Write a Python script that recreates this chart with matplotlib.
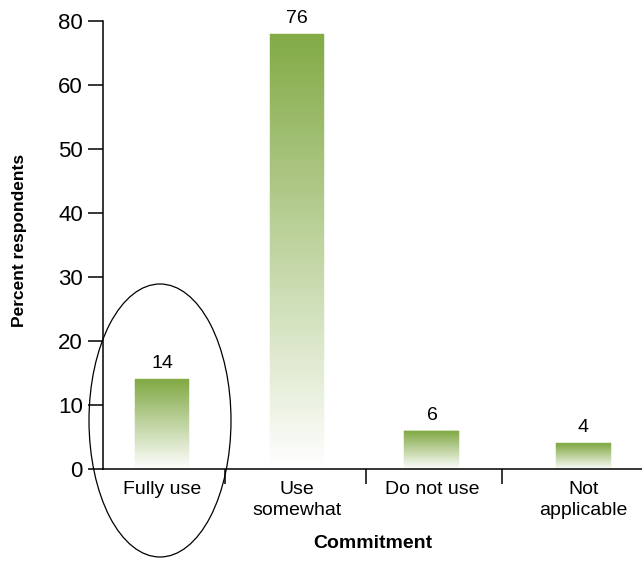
import numpy as np
import matplotlib
matplotlib.use('Agg')
import matplotlib.pyplot as plt
from matplotlib.patches import Ellipse
from matplotlib.colors import to_rgb

plt.rcParams['font.family'] = ['Liberation Sans', 'DejaVu Sans']

# 数据
categories = ['Fully use', 'Use\nsomewhat', 'Do not use', 'Not\napplicable']
values = [14, 76, 6, 4]
y_ticks = [0, 10, 20, 30, 40, 50, 60, 80]

# 纵轴在 60 以上压缩一半
def forward(y):
    y = np.asarray(y, dtype=float)
    return np.where(y <= 60, y, 60 + (y - 60) / 2)

def inverse(z):
    z = np.asarray(z, dtype=float)
    return np.where(z <= 60, z, 60 + (z - 60) * 2)

fig = plt.figure(figsize=(6.42, 5.67), dpi=100)
ax = fig.add_axes([103 / 642, 98 / 567, 539 / 642, 448 / 567])
ax.set_yscale('function', functions=(forward, inverse))
ax.set_ylim(0, 80)

x = np.array([0, 1, 2, 3.12])
width = 0.407
top_color = np.array(to_rgb('#82aa45'))
white = np.ones(3)

# 渐变柱子：按轴空间切片
n = 80
for xi, v in zip(x, values):
    z = np.linspace(0, float(forward(v)), n + 1)
    edges = inverse(z)
    for k in range(n):
        t = (k + 0.5) / n
        c = white * (1 - t) + top_color * t
        ax.bar(xi, edges[k + 1] - edges[k], bottom=edges[k], width=width,
               color=c, edgecolor=c, linewidth=0.3)
    ax.annotate(str(v), (xi, v), xytext=(0, 5), textcoords='offset points',
                ha='center', va='bottom', fontsize=14)

ax.set_xlim(-0.437, 3.556)
ax.spines['top'].set_visible(False)
ax.spines['right'].set_visible(False)
ax.spines['left'].set_linewidth(1.1)
ax.spines['bottom'].set_linewidth(1.1)

ax.set_yticks(y_ticks)
ax.set_yticklabels([str(t) for t in y_ticks])
ax.yaxis.set_minor_locator(matplotlib.ticker.NullLocator())
ax.tick_params(axis='y', direction='out', length=10.5, width=1.1, pad=4, labelsize=16)

ax.set_xticks(x)
ax.set_xticklabels(categories, fontsize=14, linespacing=1.25)
ax.set_xticks([0.467, 1.51, 2.52], minor=True)
ax.tick_params(axis='x', which='major', length=0, pad=9)
ax.tick_params(axis='x', which='minor', direction='out', length=10.5, width=1.1)

ax.set_xlabel('Commitment', fontsize=14, fontweight='bold', labelpad=12)
fig.text(20 / 642, 1 - 240 / 567, 'Percent respondents', rotation=90,
         ha='center', va='center', fontsize=12.5, fontweight='bold')

# 圈出 Fully use
ell = Ellipse((160 / 642, 1 - 420.5 / 567), 142 / 642, 273 / 567,
              transform=fig.transFigure, fill=False, edgecolor='black',
              linewidth=0.9, clip_on=False)
fig.patches.append(ell)

fig.savefig('out.png', dpi=100)
